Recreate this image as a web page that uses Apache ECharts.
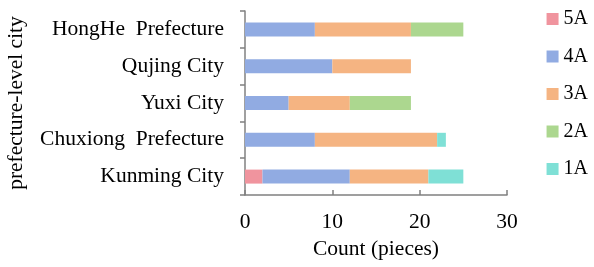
<!DOCTYPE html>
<html>
<head>
<meta charset="utf-8">
<script src="https://cdn.jsdelivr.net/npm/echarts@6/dist/echarts.min.js"></script>
<style>
  html, body { margin: 0; padding: 0; background: #fff; }
  #container { width: 594px; height: 267px; }
</style>
</head>
<body>
<div id="container"></div>
<script>
var dom = document.getElementById('container');
var myChart = echarts.init(dom, null, { renderer: 'canvas' });

// bottom to top
const cities = ['Kunming City', 'Chuxiong  Prefecture', 'Yuxi City', 'Qujing City', 'HongHe  Prefecture'];
const levels = ['5A', '4A', '3A', '2A', '1A'];
const val5A = [2, 0, 0, 0, 0];
const val4A = [10, 8, 5, 10, 8];
const val3A = [9, 14, 7, 9, 11];
const val2A = [0, 0, 7, 0, 6];
const val1A = [4, 1, 0, 0, 0];
const xTicks = [0, 10, 20, 30];

const colors = ['#f0949e', '#91abe2', '#f5b482', '#acd78f', '#7fe0d6'];
const seriesData = [val5A, val4A, val3A, val2A, val1A];
const font = '"Liberation Serif", "Times New Roman", serif';

let series = [];
for (let i = 0; i < levels.length; i++) {
    series.push({
        name: levels[i],
        type: 'bar',
        stack: 'total',
        barWidth: 14,
        data: seriesData[i],
        itemStyle: { color: colors[i] }
    });
}

var option = {
    textStyle: { fontFamily: font },
    animation: false,
    legend: {
        orient: 'vertical',
        right: 1,
        top: 4,
        itemWidth: 12,
        itemHeight: 12,
        itemGap: 17.5,
        icon: 'rect',
        textStyle: { fontFamily: font, fontSize: 20, color: '#000' },
        data: levels
    },
    grid: { left: 245, right: 87, top: 11, bottom: 72 },
    xAxis: {
        type: 'value',
        min: xTicks[0],
        max: xTicks[xTicks.length - 1],
        interval: 10,
        name: 'Count (pieces)',
        nameLocation: 'middle',
        nameGap: 42,
        nameTextStyle: { fontFamily: font, fontSize: 21.5, color: '#000' },
        axisLine: { show: true, lineStyle: { color: '#808080', width: 1.5 } },
        axisTick: { show: true, inside: true, length: 5, lineStyle: { color: '#808080', width: 1.5 } },
        axisLabel: { fontFamily: font, fontSize: 21.5, color: '#000', margin: 16 },
        splitLine: { show: false }
    },
    yAxis: {
        type: 'category',
        data: cities,
        name: 'prefecture-level city',
        nameLocation: 'middle',
        nameRotate: 90,
        nameGap: 218,
        nameTextStyle: { fontFamily: font, fontSize: 21.5, color: '#000' },
        axisLine: { show: true, lineStyle: { color: '#808080', width: 1.5 } },
        axisTick: { show: true, length: 5, lineStyle: { color: '#808080', width: 1.5 } },
        axisLabel: { fontFamily: font, fontSize: 21.5, color: '#000', margin: 21 }
    },
    series: series
};

myChart.setOption(option);
window.addEventListener('resize', myChart.resize);
</script>
</body>
</html>
